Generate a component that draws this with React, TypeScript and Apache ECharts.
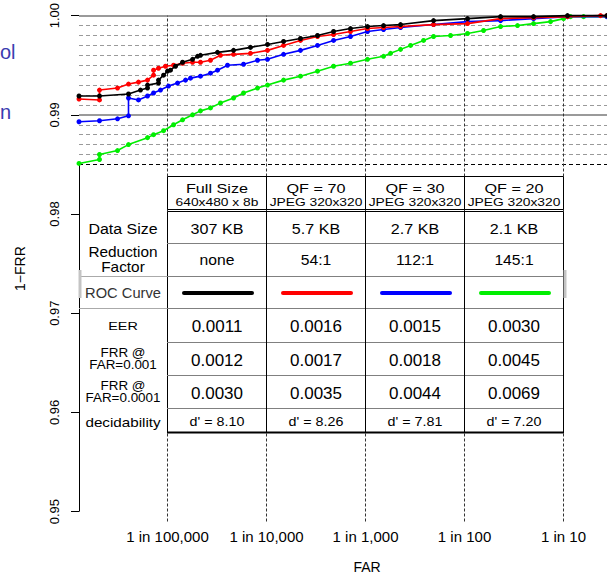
import React, { useEffect, useRef } from "react";
import * as echarts from "echarts";

// ---------- axis data ----------
const xMin = -5.894; // log10(FAR) at the left edge
const xMax = -0.561; // log10(FAR) at the right edge
const yMin = 0.949;
const yMax = 1.0;
const decadeExponents = [-5, -4, -3, -2, -1];
const decadeLabels = ["1 in 100,000", "1 in 10,000", "1 in 1,000", "1 in 100", "1 in 10"];
const yTicks = [0.95, 0.96, 0.97, 0.98, 0.99, 1.0];
const solidLevels = [1.0, 0.99];
const dashedLevels = [0.999, 0.998, 0.997, 0.996, 0.995, 0.994, 0.993, 0.992, 0.991, 0.989, 0.988, 0.987, 0.986];
const baseLevel = 0.985;
const axisBottom = 0.95;

// ---------- ROC curves: [log10(FAR), 1-FRR] ----------
const fullSize = [
  [-5.894, 0.9919], [-5.687, 0.9919], [-5.394, 0.9921], [-5.273, 0.9925], [-5.202, 0.9927], [-5.202, 0.993],
  [-5.091, 0.9932], [-5.091, 0.9935], [-5.04, 0.994], [-5.0, 0.9944], [-4.97, 0.9945], [-4.919, 0.9949],
  [-4.848, 0.9953], [-4.747, 0.9956], [-4.697, 0.9959], [-4.667, 0.996], [-4.495, 0.9963], [-4.333, 0.9965],
  [-4.162, 0.9968], [-3.99, 0.9971], [-3.828, 0.9974], [-3.657, 0.9977], [-3.485, 0.998], [-3.323, 0.9984],
  [-3.152, 0.9987], [-2.98, 0.9989], [-2.818, 0.999], [-2.646, 0.9991], [-2.313, 0.9995], [-1.97, 0.9997],
  [-1.636, 0.9999], [-1.303, 0.9999], [-0.96, 1.0], [-0.561, 1.0],
];
const qf70 = [
  [-5.894, 0.9916], [-5.687, 0.9915], [-5.687, 0.9925], [-5.505, 0.9927], [-5.394, 0.9931], [-5.293, 0.9933],
  [-5.202, 0.9935], [-5.141, 0.994], [-5.141, 0.9945], [-5.091, 0.9947], [-5.02, 0.9949], [-4.939, 0.995],
  [-4.848, 0.9952], [-4.747, 0.9953], [-4.667, 0.9953], [-4.566, 0.9955], [-4.465, 0.996], [-4.333, 0.9961],
  [-4.162, 0.9962], [-3.99, 0.9965], [-3.828, 0.997], [-3.657, 0.9975], [-3.485, 0.9979], [-3.323, 0.9981],
  [-3.152, 0.9984], [-2.98, 0.9987], [-2.818, 0.9988], [-2.646, 0.9989], [-2.313, 0.9991], [-1.97, 0.9992],
  [-1.636, 0.9997], [-1.303, 0.9998], [-0.96, 0.9999], [-0.626, 1.0], [-0.561, 1.0],
];
const qf30 = [
  [-5.894, 0.9893], [-5.687, 0.9894], [-5.505, 0.9896], [-5.394, 0.9899], [-5.394, 0.9917], [-5.293, 0.9915],
  [-5.202, 0.9919], [-5.141, 0.9922], [-5.071, 0.9925], [-4.99, 0.9929], [-4.899, 0.9932], [-4.818, 0.9935],
  [-4.768, 0.9937], [-4.667, 0.9939], [-4.566, 0.9942], [-4.495, 0.9945], [-4.394, 0.995], [-4.232, 0.9951],
  [-4.091, 0.9955], [-3.99, 0.9956], [-3.828, 0.9961], [-3.657, 0.9965], [-3.485, 0.997], [-3.323, 0.9975],
  [-3.152, 0.9979], [-2.98, 0.9984], [-2.818, 0.9986], [-2.646, 0.9988], [-2.313, 0.9991], [-1.97, 0.9994],
  [-1.636, 0.9995], [-1.303, 0.9997], [-0.96, 0.9999], [-0.561, 0.9999],
];
const qf20 = [
  [-5.894, 0.9851], [-5.687, 0.9855], [-5.687, 0.986], [-5.505, 0.9864], [-5.394, 0.987], [-5.202, 0.9877],
  [-5.141, 0.988], [-5.04, 0.9884], [-4.939, 0.989], [-4.848, 0.9895], [-4.747, 0.99], [-4.667, 0.9904],
  [-4.566, 0.9907], [-4.465, 0.9912], [-4.333, 0.9917], [-4.232, 0.9922], [-4.091, 0.9927], [-3.99, 0.993],
  [-3.828, 0.9935], [-3.657, 0.9939], [-3.485, 0.9944], [-3.323, 0.9949], [-3.152, 0.9952], [-2.98, 0.9956],
  [-2.818, 0.9959], [-2.747, 0.9962], [-2.646, 0.9966], [-2.545, 0.997], [-2.414, 0.9975], [-2.313, 0.9979],
  [-2.141, 0.998], [-1.97, 0.9982], [-1.808, 0.9985], [-1.636, 0.9989], [-1.465, 0.999], [-1.303, 0.9992],
  [-1.131, 0.9994], [-1.0, 0.9997], [-0.929, 0.9999], [-0.798, 0.9999], [-0.561, 0.9999],
];
const seriesNames = ["Full Size", "QF = 70", "QF = 30", "QF = 20"];
const seriesColors = ["#000000", "#ff0000", "#0000ff", "#00ee00"];

// ---------- table texts ----------
const columnTitles = ["Full Size", "QF = 70", "QF = 30", "QF = 20"];
const columnSubtitles = ["640x480 x 8b", "JPEG 320x320", "JPEG 320x320", "JPEG 320x320"];
const dataSizes = ["307 KB", "5.7 KB", "2.7 KB", "2.1 KB"];
const reductionFactors = ["none", "54:1", "112:1", "145:1"];
const eerValues = ["0.0011", "0.0016", "0.0015", "0.0030"];
const frrAt001 = ["0.0012", "0.0017", "0.0018", "0.0045"];
const frrAt0001 = ["0.0030", "0.0035", "0.0044", "0.0069"];
const decidability = ["d' = 8.10", "d' = 8.26", "d' = 7.81", "d' = 7.20"];

const FF = '"Liberation Sans", Arial, Helvetica, sans-serif';

function txt(x: number, y: number, text: string, size: number, sx = 1, fill = "#000", align = "center") {
  return {
    type: "text",
    x,
    y,
    scaleX: sx,
    z: 110,
    silent: true,
    style: {
      text,
      font: `${size}px ${FF}`,
      fill,
      align,
      verticalAlign: "middle",
      textAlign: align,
      textVerticalAlign: "middle",
    },
  };
}
function ln(x1: number, y1: number, x2: number, y2: number, stroke = "#000", lineWidth = 1, cap = "butt") {
  return {
    type: "line",
    z: 105,
    silent: true,
    shape: { x1, y1, x2, y2 },
    style: { stroke, lineWidth, lineCap: cap },
  };
}

function buildGraphic() {
  const L = 167;
  const W = 99;
  const R = L + 4 * W;
  const els: any[] = [];
  // white boxes
  els.push({ type: "rect", z: 100, silent: true, shape: { x: L + 0.5, y: 176.5, width: 4 * W, height: 33 }, style: { fill: "#fff", stroke: "#000", lineWidth: 1 } });
  els.push({ type: "rect", z: 100, silent: true, shape: { x: L + 0.5, y: 211.5, width: 4 * W, height: 221 }, style: { fill: "#fff", stroke: "#000", lineWidth: 1 } });
  // ROC band
  els.push(ln(79, 276.5, L, 276.5, "#aaa", 1));
  els.push(ln(79, 308.5, L, 308.5, "#aaa", 1));
  els.push(ln(80, 270, 80, 298, "#c4c4c4", 3));
  els.push(ln(R + 2, 270, R + 2, 298, "#c4c4c4", 3));
  // horizontal separators
  [243.5, 276.5, 308.5, 342.5, 375.5, 408.5].forEach((y) => els.push(ln(L, y, R, y, "#808080", 1)));
  els.push(ln(L, 432.5, R + 1, 432.5, "#000", 2));
  // column separators
  for (let i = 1; i < 4; i++) {
    const x = L + i * W + 0.5;
    els.push(ln(x, 176.5, x, 209.5, "#000", 1));
    els.push(ln(x, 211.5, x, 432.5, "#000", 1));
  }
  // row labels
  const cx = 123;
  els.push(txt(cx, 229, "Data Size", 14.5, 1.1));
  els.push(txt(cx, 252, "Reduction", 14.5, 1.06));
  els.push(txt(cx, 267, "Factor", 14.5, 1.06));
  els.push(txt(cx, 293, "ROC Curve", 14, 1.05, "#333"));
  els.push(txt(cx, 326, "EER", 11.5, 1.25));
  els.push(txt(cx, 353, "FRR @", 12, 1.12));
  els.push(txt(cx, 365, "FAR=0.001", 12, 1.12));
  els.push(txt(cx, 386, "FRR @", 12, 1.12));
  els.push(txt(cx, 398, "FAR=0.0001", 12, 1.12));
  els.push(txt(cx, 422, "decidability", 13, 1.17));
  // columns
  for (let i = 0; i < 4; i++) {
    const c = L + i * W + W / 2 + 0.5;
    els.push(txt(c, 188, columnTitles[i], 13.5, 1.2));
    els.push(txt(c, 202, columnSubtitles[i], 11.5, 1.2));
    els.push(txt(c, 229, dataSizes[i], 14, 1.15));
    els.push(txt(c, 260, reductionFactors[i], 14, 1.12));
    els.push(ln(L + i * W + 17, 293, L + i * W + 85, 293, seriesColors[i], 4, "round"));
    els.push(txt(c, 326, eerValues[i], 17, 1.0));
    els.push(txt(c, 360, frrAt001[i], 17, 1.0));
    els.push(txt(c, 393, frrAt0001[i], 17, 1.0));
    els.push(txt(c, 422, decidability[i], 13, 1.1));
  }
  // slide text fragments at the left edge
  els.push(txt(0, 52, "ol", 20, 1.0, "#3b3bb0", "left"));
  els.push(txt(0, 112, "n", 20, 1.0, "#3b3bb0", "left"));
  return els;
}

function buildOption() {
  const gridLines: any[] = [];
  solidLevels.forEach((v) => gridLines.push({ yAxis: v, lineStyle: { color: "#9a9a9a", width: 2, type: "solid" } }));
  dashedLevels.forEach((v) => gridLines.push({ yAxis: v, lineStyle: { color: "#9a9a9a", width: 1, type: [4, 3] } }));
  gridLines.push({ yAxis: baseLevel, lineStyle: { color: "#000", width: 1, type: [4, 3] } });
  // vertical decade lines over the full height (the table hides the middle part)
  decadeExponents.forEach((e) => {
    gridLines.push({ xAxis: e, lineStyle: { color: "#333", width: 1, type: [3, 2] } });
  });
  gridLines.push([{ coord: [xMin, baseLevel], lineStyle: { color: "#000", width: 1, type: "solid" } }, { coord: [xMin, axisBottom] }]);

  const curves = [fullSize, qf70, qf30, qf20];
  const order = [3, 2, 1, 0];
  const curveSeries = order.map((i, k) => ({
    type: "line",
    name: seriesNames[i],
    data: curves[i],
    z: 10 + k,
    symbol: "circle",
    symbolSize: 5,
    showSymbol: true,
    clip: false,
    silent: true,
    itemStyle: { color: seriesColors[i] },
    lineStyle: { color: seriesColors[i], width: 1.6 },
  }));

  return {
    animation: false,
    backgroundColor: "#fff",
    grid: { left: 79, right: 0, top: 11.5, bottom: 59.5, containLabel: false },
    xAxis: {
      type: "value",
      min: xMin,
      max: xMax,
      axisLine: { show: false },
      axisTick: { show: false },
      splitLine: { show: false },
      axisLabel: {
        customValues: decadeExponents,
        formatter: (v: number) => decadeLabels[decadeExponents.indexOf(Math.round(v))] ?? "",
        fontSize: 15,
        fontFamily: FF,
        color: "#000",
        margin: 7,
      },
      name: "FAR",
      nameLocation: "middle",
      nameGap: 38,
      nameTextStyle: { fontSize: 14, fontFamily: FF, color: "#000", padding: [0, 0, 0, 48] },
    },
    yAxis: {
      type: "value",
      min: yMin,
      max: yMax,
      axisLine: { show: false },
      splitLine: { show: false },
      axisTick: { show: true, customValues: yTicks, length: 8, lineStyle: { color: "#000", width: 1 } },
      axisLabel: {
        customValues: yTicks,
        rotate: 90,
        formatter: (v: number) => v.toFixed(2),
        fontSize: 13,
        fontFamily: FF,
        color: "#000",
        margin: 18,
      },
      name: "1\u2212FRR",
      nameLocation: "middle",
      nameRotate: 90,
      nameGap: 52,
      nameTextStyle: { fontSize: 14, fontFamily: FF, color: "#000" },
    },
    series: [
      {
        type: "line",
        name: "grid",
        data: [],
        z: 1,
        clip: false,
        silent: true,
        markLine: {
          silent: true,
          animation: false,
          precision: 6,
          symbol: ["none", "none"],
          label: { show: false },
          data: gridLines,
        },
      },
      ...curveSeries,
    ],
    graphic: { elements: buildGraphic() },
  };
}

export default function App() {
  const ref = useRef<HTMLDivElement>(null);
  useEffect(() => {
    if (!ref.current) return;
    const chart = echarts.init(ref.current, undefined, { renderer: "svg" });
    chart.setOption(buildOption() as any);
    return () => chart.dispose();
  }, []);
  return (
    <div
      ref={ref}
      style={{ position: "fixed", left: 0, top: 0, width: 607, height: 581, background: "#fff" }}
    />
  );
}
